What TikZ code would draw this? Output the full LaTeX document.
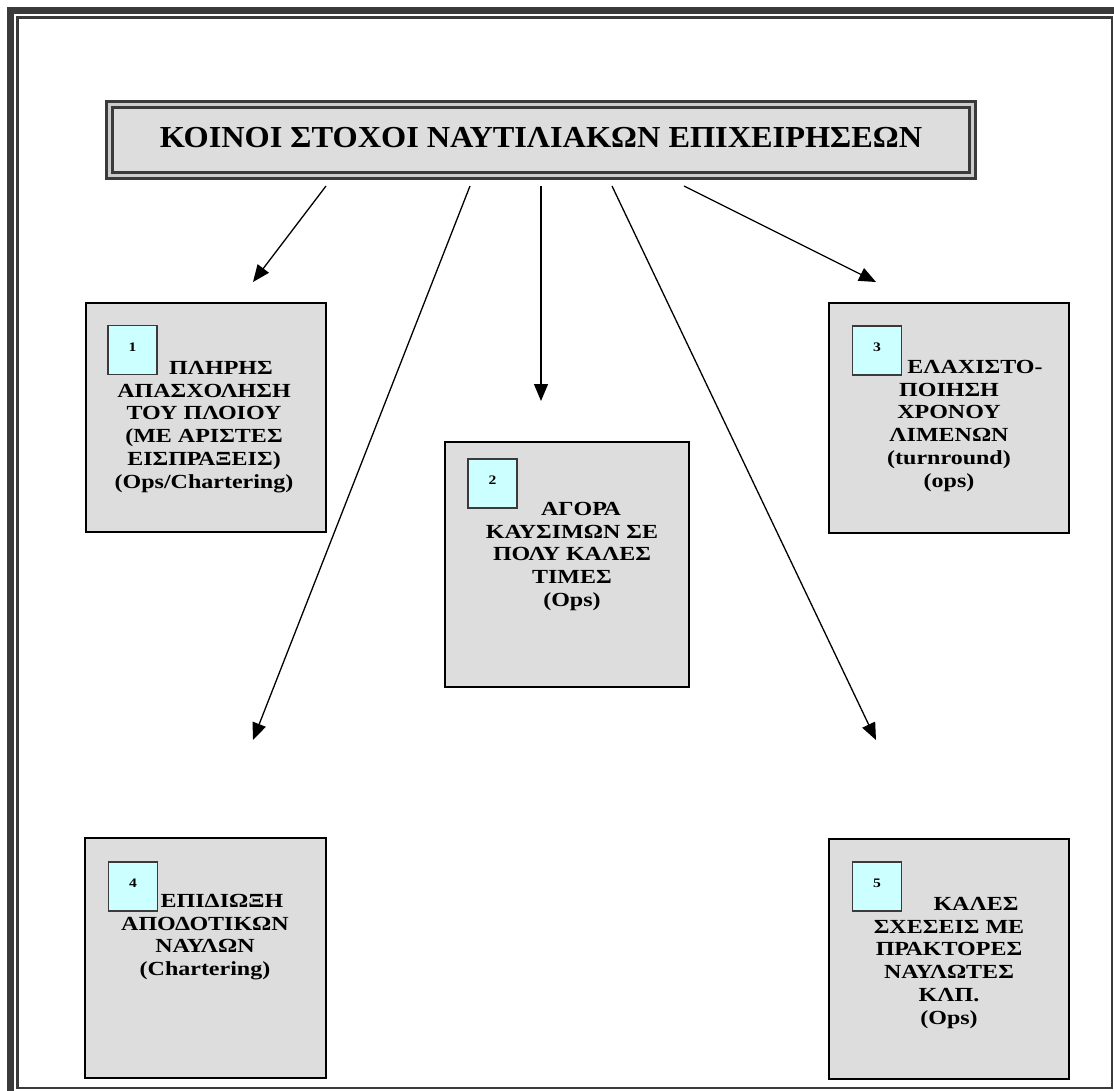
\documentclass[tikz,border=0pt]{standalone}
\usepackage{fontspec}
\setmainfont{Liberation Serif}
\newfontfamily\headfont{Liberation Serif}[FakeStretch=1.06]
\newfontfamily\goalfont{Liberation Serif}[FakeStretch=1.2]
\usetikzlibrary{arrows.meta}

\definecolor{framegrey}{HTML}{3A3A3A}
\definecolor{gapgrey}{HTML}{CCCCCC}
\definecolor{boxgrey}{HTML}{DDDDDD}
\definecolor{numcyan}{HTML}{CCFFFF}

\tikzset{
  titlebox/.style={draw=framegrey, line width=3.3pt, double=gapgrey, double distance=2.7pt,
    fill=boxgrey, inner sep=0pt, outer sep=0pt, minimum width=863pt, minimum height=71pt,
    font=\headfont\bfseries\fontsize{30.5}{34}\selectfont},
  goalbox/.style={draw=black, line width=2pt, fill=boxgrey, inner sep=0pt, outer sep=0pt,
    minimum width=240pt},
  numbox/.style={draw=framegrey, line width=1.5pt, fill=numcyan, inner sep=0pt,
    minimum width=49pt, minimum height=49pt, font=\goalfont\bfseries\fontsize{13}{15}\selectfont},
  goaltext/.style={anchor=north, align=center, inner sep=0pt,
    font=\goalfont\bfseries\fontsize{20}{22.8}\selectfont},
  conn/.style={line width=1.3pt, -{Triangle[length=17pt, width=14pt]}}
}

\begin{document}
\begin{tikzpicture}[x=1pt, y=-1pt]
\useasboundingbox (0,0) rectangle (1114,1091);

% page frame: heavy outer rule and thin inner rule
\draw[framegrey, line width=7pt] (10.5,10.5) rectangle (1118.5,1094.5);
\draw[framegrey, line width=2.2pt] (17.5,17.5) rectangle (1112,1088);

% heading
\node[titlebox] (title) at (541,140)
  {\raisebox{6pt}{ΚΟΙΝΟΙ ΣΤΟΧΟΙ ΝΑΥΤΙΛΙΑΚΩΝ ΕΠΙΧΕΙΡΗΣΕΩΝ}};

% goal boxes
\node[goalbox, minimum height=229pt] (b1) at (206,417.5) {};
\node[goalbox, minimum width=244pt, minimum height=245pt] (b2) at (567,564.5) {};
\node[goalbox, minimum height=230pt] (b3) at (949,418) {};
\node[goalbox, minimum width=241pt, minimum height=240pt] (b4) at (205.5,958) {};
\node[goalbox, minimum height=240pt] (b5) at (949,959) {};

% numbered tags
\node[numbox] (n1) at (132.5,350) {\raisebox{6pt}{1}};
\node[numbox] (n2) at (492.5,483.5) {\raisebox{6pt}{2}};
\node[numbox] (n3) at (877,350.5) {\raisebox{6pt}{3}};
\node[numbox] (n4) at (133,886.5) {\raisebox{6pt}{4}};
\node[numbox] (n5) at (877,886.5) {\raisebox{6pt}{5}};

% box texts
\node[goaltext] (t1) at (204,360.9)
  {\hspace*{34pt}ΠΛΗΡΗΣ\\ΑΠΑΣΧΟΛΗΣΗ\\ΤΟΥ ΠΛΟΙΟΥ\\(ΜΕ ΑΡΙΣΤΕΣ\\ΕΙΣΠΡΑΞΕΙΣ)\\(Ops/Chartering)};
\node[goaltext] (t2) at (572,501.9)
  {\hspace*{18pt}ΑΓΟΡΑ\\ΚΑΥΣΙΜΩΝ ΣΕ\\ΠΟΛΥ ΚΑΛΕΣ\\ΤΙΜΕΣ\\(Ops)};
\node[goaltext] (t3) at (949,359.9)
  {\hspace*{52pt}ΕΛΑΧΙΣΤΟ-\\ΠΟΙΗΣΗ\\ΧΡΟΝΟΥ\\ΛΙΜΕΝΩΝ\\(turnround)\\(ops)};
\node[goaltext] (t4) at (205,893.9)
  {\hspace*{34pt}ΕΠΙΔΙΩΞΗ\\ΑΠΟΔΟΤΙΚΩΝ\\ΝΑΥΛΩΝ\\(Chartering)};
\node[goaltext] (t5) at (949,896.9)
  {\hspace*{54pt}ΚΑΛΕΣ\\ΣΧΕΣΕΙΣ ΜΕ\\ΠΡΑΚΤΟΡΕΣ\\ΝΑΥΛΩΤΕΣ\\ΚΛΠ.\\(Ops)};

% arrow ends below the heading and above the boxes
\coordinate (a1s) at (326,186);  \coordinate (a1e) at (253,282);
\coordinate (a2s) at (470,186);  \coordinate (a2e) at (253,740);
\coordinate (a3s) at (541,186);  \coordinate (a3e) at (541,401);
\coordinate (a4s) at (612,186);  \coordinate (a4e) at (876,740);
\coordinate (a5s) at (684,186);  \coordinate (a5e) at (876,282);

\draw[conn] (a1s) -- (a1e);
\draw[conn] (a2s) -- (a2e);
\draw[conn] (a3s) -- (a3e);
\draw[conn] (a4s) -- (a4e);
\draw[conn] (a5s) -- (a5e);
\end{tikzpicture}
\end{document}
